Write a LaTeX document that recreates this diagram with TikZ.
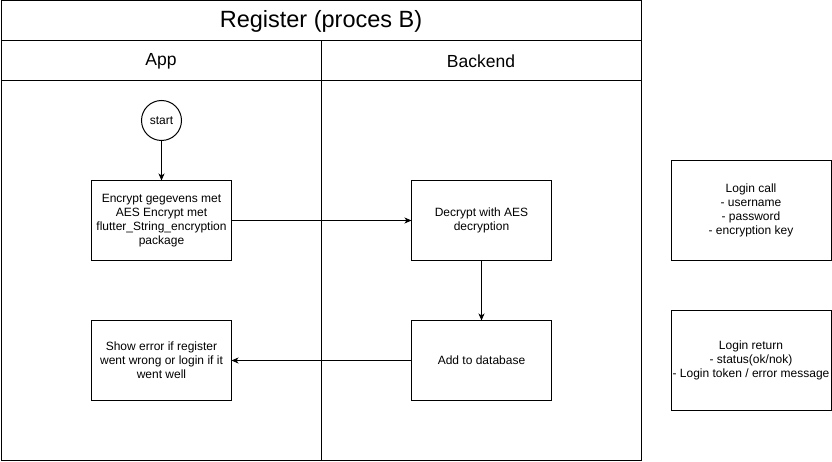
\documentclass[tikz,border=0pt]{standalone}
\usepackage{fontspec}
\setmainfont{Liberation Sans}
\usetikzlibrary{arrows.meta}
\begin{document}
\begin{tikzpicture}[x=1pt,y=-1pt,
  every node/.style={inner sep=0pt, outer sep=0pt},
  boxtxt/.style={font=\fontsize{12}{14}\selectfont, align=center},
  proc/.style={draw, line width=1pt, rectangle, minimum width=140pt, minimum height=80pt, boxtxt},
  notebox/.style={draw, line width=1pt, rectangle, minimum width=160pt, minimum height=100pt, boxtxt},
  startnode/.style={draw, line width=1pt, circle, minimum size=40pt, boxtxt},
  laneline/.style={line width=1pt},
  flow/.style={line width=1pt, -{Stealth[length=7pt,width=6pt,inset=2pt]}}
]
\useasboundingbox (0,0) rectangle (832,462);
% pool
\draw[laneline] (1,0.5) rectangle (641,460.5);
\draw[laneline] (1,40.5) -- (641,40.5);
\draw[laneline] (1,80.5) -- (641,80.5);
\draw[laneline] (321,40.5) -- (321,460.5);
\node[font=\fontsize{23.5}{28}\selectfont] (title) at (321,21) {Register (proces B)};
\node[font=\fontsize{17.5}{21}\selectfont] (app) at (161,61) {App};
\node[font=\fontsize{17.5}{21}\selectfont] (backend) at (481,61) {Backend};
% flow
\node[startnode] (start) at (161.5,120.5) {start};
\node[proc] (enc) at (161.5,220.5) {Encrypt gegevens met\\AES Encrypt met\\flutter\_String\_encryption\\package};
\node[proc] (dec) at (481.5,220.5) {Decrypt with AES\\decryption};
\node[proc] (add) at (481.5,360.5) {Add to database};
\node[proc] (show) at (161.5,360.5) {Show error if register\\went wrong or login if it\\went well};
\draw[flow] (start) -- (enc);
\draw[flow] (enc) -- (dec);
\draw[flow] (dec) -- (add);
\draw[flow] (add) -- (show);
% notes
\node[notebox] (call) at (751,210.5) {Login call\\- username\\- password\\- encryption key};
\node[notebox] (ret) at (751,360.5) {Login return\\- status(ok/nok)\\- Login token / error message};
\end{tikzpicture}
\end{document}
